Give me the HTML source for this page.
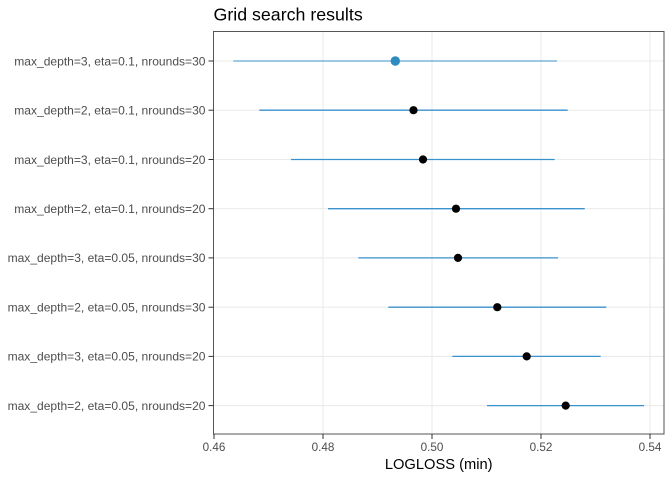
<!DOCTYPE html>
<html><head><meta charset="utf-8"><style>
html,body{margin:0;padding:0;background:#fff;}
svg{display:block;font-family:"Liberation Sans",sans-serif;}
</style></head><body>
<svg width="672" height="480" viewBox="0 0 672 480" xmlns="http://www.w3.org/2000/svg">
<rect width="672" height="480" fill="#fff"/>
<text x="213.5" y="20.5" font-size="17.8" fill="#000">Grid search results</text>
<g stroke="#ebebeb" stroke-width="1.1">
<line x1="323" y1="31.5" x2="323" y2="434"/>
<line x1="432" y1="31.5" x2="432" y2="434"/>
<line x1="541" y1="31.5" x2="541" y2="434"/>
<line x1="650" y1="31.5" x2="650" y2="434"/>
<line x1="213.5" y1="61" x2="664" y2="61"/>
<line x1="213.5" y1="110.2" x2="664" y2="110.2"/>
<line x1="213.5" y1="159.5" x2="664" y2="159.5"/>
<line x1="213.5" y1="208.7" x2="664" y2="208.7"/>
<line x1="213.5" y1="257.9" x2="664" y2="257.9"/>
<line x1="213.5" y1="307.2" x2="664" y2="307.2"/>
<line x1="213.5" y1="356.4" x2="664" y2="356.4"/>
<line x1="213.5" y1="405.6" x2="664" y2="405.6"/>
</g>
<rect x="213.5" y="31.5" width="450.5" height="402.5" fill="none" stroke="#555" stroke-width="1"/>
<g stroke="#333" stroke-width="1">
<line x1="208.5" y1="61" x2="213.5" y2="61"/>
<line x1="208.5" y1="110.2" x2="213.5" y2="110.2"/>
<line x1="208.5" y1="159.5" x2="213.5" y2="159.5"/>
<line x1="208.5" y1="208.7" x2="213.5" y2="208.7"/>
<line x1="208.5" y1="257.9" x2="213.5" y2="257.9"/>
<line x1="208.5" y1="307.2" x2="213.5" y2="307.2"/>
<line x1="208.5" y1="356.4" x2="213.5" y2="356.4"/>
<line x1="208.5" y1="405.6" x2="213.5" y2="405.6"/>
<line x1="214" y1="434" x2="214" y2="439"/>
<line x1="323" y1="434" x2="323" y2="439"/>
<line x1="432" y1="434" x2="432" y2="439"/>
<line x1="541" y1="434" x2="541" y2="439"/>
<line x1="650" y1="434" x2="650" y2="439"/>
</g>
<g font-size="12.05" fill="#4d4d4d" text-anchor="end">
<text x="205.5" y="65.3">max_depth=3, eta=0.1, nrounds=30</text>
<text x="205.5" y="114.5">max_depth=2, eta=0.1, nrounds=30</text>
<text x="205.5" y="163.8">max_depth=3, eta=0.1, nrounds=20</text>
<text x="205.5" y="213">max_depth=2, eta=0.1, nrounds=20</text>
<text x="205.5" y="262.2">max_depth=3, eta=0.05, nrounds=30</text>
<text x="205.5" y="311.5">max_depth=2, eta=0.05, nrounds=30</text>
<text x="205.5" y="360.7">max_depth=3, eta=0.05, nrounds=20</text>
<text x="205.5" y="409.9">max_depth=2, eta=0.05, nrounds=20</text>
</g>
<g font-size="11.7" fill="#4d4d4d" text-anchor="middle">
<text x="214" y="451">0.46</text>
<text x="323" y="451">0.48</text>
<text x="432" y="451">0.50</text>
<text x="541" y="451">0.52</text>
<text x="650" y="451">0.54</text>
</g>
<text x="438.7" y="469" font-size="14.7" fill="#000" text-anchor="middle">LOGLOSS (min)</text>
<g stroke-width="1.3">
<line x1="233.3" y1="61" x2="557" y2="61" stroke="#62a6d3"/>
<line x1="259.3" y1="110.2" x2="567.7" y2="110.2" stroke="#3a92cc"/>
<line x1="291" y1="159.5" x2="554.7" y2="159.5" stroke="#3a92cc"/>
<line x1="328" y1="208.7" x2="584.7" y2="208.7" stroke="#3a92cc"/>
<line x1="358.3" y1="257.9" x2="558" y2="257.9" stroke="#3a92cc"/>
<line x1="388.3" y1="307.2" x2="606.3" y2="307.2" stroke="#3a92cc"/>
<line x1="452.3" y1="356.4" x2="600.7" y2="356.4" stroke="#3a92cc"/>
<line x1="487" y1="405.6" x2="644" y2="405.6" stroke="#3a92cc"/>
</g>
<circle cx="395.3" cy="61" r="4.7" fill="#2e8bc0"/>
<g fill="#000">
<circle cx="413.5" cy="110.2" r="4.1"/>
<circle cx="423" cy="159.5" r="4.1"/>
<circle cx="456" cy="208.7" r="4.1"/>
<circle cx="458" cy="257.9" r="4.1"/>
<circle cx="497.3" cy="307.2" r="4.1"/>
<circle cx="526.7" cy="356.4" r="4.1"/>
<circle cx="565.7" cy="405.6" r="4.1"/>
</g>
</svg>
</body></html>
